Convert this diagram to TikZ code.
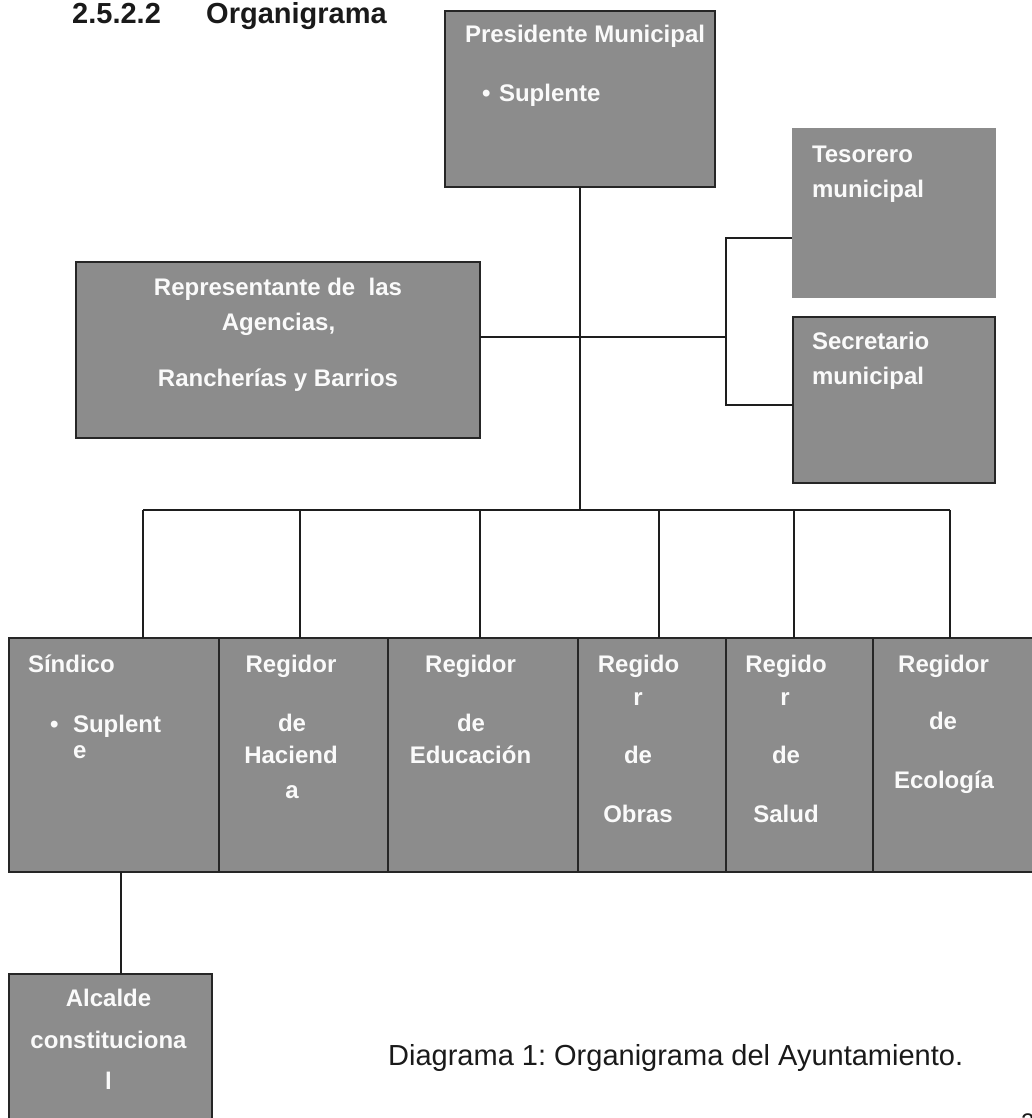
\documentclass[tikz,border=0pt]{standalone}
\usepackage{fontspec}
\setmainfont{Liberation Sans}
\frenchspacing
\definecolor{boxgray}{RGB}{140,140,140}
\definecolor{boxline}{RGB}{38,38,38}
\definecolor{linec}{RGB}{30,30,30}
\definecolor{lbltext}{RGB}{250,250,250}
\definecolor{titletext}{RGB}{26,26,26}
\newcommand\boxfont{\fontsize{24}{28}\selectfont\bfseries}
\begin{document}
\begin{tikzpicture}[x=1pt,y=-1pt,
  box/.style={draw=boxline, line width=2.7pt, fill=boxgray, inner sep=0pt, outer sep=0pt, anchor=north west},
  plainbox/.style={fill=boxgray, inner sep=0pt, outer sep=0pt, anchor=north west},
  conn/.style={draw=linec, line width=2pt},
  lbl/.style={text=lbltext, font=\boxfont, inner sep=0pt, outer sep=0pt},
  lbll/.style={lbl, anchor=base west},
  lblc/.style={lbl, anchor=base},
]
\useasboundingbox (0,0) rectangle (1032,1118);
\clip (0,0) rectangle (1032,1118);
\fill[white] (0,0) rectangle (1032,1118);

% title
\node[anchor=base west, inner sep=0pt, text=titletext, font=\fontsize{29}{34}\selectfont\bfseries] (title) at (72,24) {2.5.2.2};
\node[anchor=base west, inner sep=0pt, text=titletext, font=\fontsize{29}{34}\selectfont\bfseries] (title2) at (206,24) {Organigrama};

% boxes
\node[box, minimum width=270pt, minimum height=176pt] (pres) at (445,11) {};
\node[plainbox, minimum width=204pt, minimum height=170pt] (tes) at (792,128) {};
\node[box, minimum width=202pt, minimum height=166pt] (sec) at (793,317) {};
\node[box, minimum width=404pt, minimum height=176pt] (rep) at (76,262) {};
\node[box, minimum width=210pt, minimum height=234pt] (s1) at (9,638) {};
\node[box, minimum width=169pt, minimum height=234pt] (s2) at (219,638) {};
\node[box, minimum width=190pt, minimum height=234pt] (s3) at (388,638) {};
\node[box, minimum width=148pt, minimum height=234pt] (s4) at (578,638) {};
\node[box, minimum width=147pt, minimum height=234pt] (s5) at (726,638) {};
\node[box, minimum width=170pt, minimum height=234pt] (s6) at (873,638) {};
\node[box, minimum width=203pt, minimum height=170pt] (alc) at (9,974) {};

% connectors
\coordinate (j1) at (580,337);
\coordinate (jr) at (726,337);
\coordinate (jt) at (726,238);
\coordinate (js) at (726,405);
\coordinate (bus) at (580,510);
\draw[conn] (pres.south) -- (bus);
\draw[conn] (rep.east |- j1) -- (j1) -- (jr);
\draw[conn] (tes.west |- jt) -- (jt) -- (js) -- (sec.west |- js);
\coordinate (d1) at (143,510);
\coordinate (d2) at (300,510);
\coordinate (d3) at (479.5,510);
\coordinate (d4) at (658.5,510);
\coordinate (d5) at (793.5,510);
\coordinate (d6) at (950,510);
\draw[conn] (d1) -- (d6);
\foreach \i in {1,...,6} { \draw[conn] (d\i) -- (d\i |- s\i.north); }
\coordinate (ka) at (120.5,872);
\draw[conn] (ka |- s1.south) -- (ka |- alc.north);

% texts top
\node[lbll] (presA) at (465,43) {Presidente Municipal};
\node[lbll] (presB) at (482,102) {•};
\node[lbll] (presC) at (499,102) {Suplente};
\node[lbll] (tesA) at (812,163) {Tesorero};
\node[lbll] (tesB) at (812,197) {municipal};
\node[lbll] (secA) at (812,349) {Secretario};
\node[lbll] (secB) at (812,384) {municipal};
\node[lblc] (repA) at (278,295) {Representante de\ \ las};
\node[lblc] (repB) at (278.5,330) {Agencias,};
\node[lblc] (repC) at (278,386) {Rancherías y Barrios};

% texts bottom row
\node[lbll] (s1A) at (28,672) {Síndico};
\node[lbll] (s1B) at (50,732) {•};
\node[lbll] (s1C) at (73,732) {Suplent};
\node[lbll] (s1D) at (73,758) {e};

\node[lblc] (s2A) at (291,672) {Regidor};
\node[lblc] (s2B) at (292,731) {de};
\node[lblc] (s2C) at (291,763) {Haciend};
\node[lblc] (s2D) at (292,798) {a};

\node[lblc] (s3A) at (470.5,672) {Regidor};
\node[lblc] (s3B) at (471,731) {de};
\node[lblc] (s3C) at (470.5,763) {Educación};

\node[lblc] (s4A) at (638.5,672) {Regido};
\node[lblc] (s4B) at (638,705) {r};
\node[lblc] (s4C) at (638,763) {de};
\node[lblc] (s4D) at (638,822) {Obras};

\node[lblc] (s5A) at (786,672) {Regido};
\node[lblc] (s5B) at (785,705) {r};
\node[lblc] (s5C) at (786,763) {de};
\node[lblc] (s5D) at (786,822) {Salud};

\node[lblc] (s6A) at (943.5,672) {Regidor};
\node[lblc] (s6B) at (943,729) {de};
\node[lblc] (s6C) at (944,788) {Ecología};

\node[lblc] (alcA) at (108.5,1006) {Alcalde};
\node[lblc] (alcB) at (108.5,1048) {constituciona};
\node[lblc] (alcC) at (108.5,1089) {l};

% caption
\node[anchor=base west, inner sep=0pt, text=titletext, font=\fontsize{29}{34}\selectfont] (cap) at (388,1065) {Diagrama 1: Organigrama del Ayuntamiento.};
\node[anchor=base west, inner sep=0pt, text=titletext, font=\fontsize{24}{28}\selectfont] (pg) at (1021,1130) {2};
\end{tikzpicture}
\end{document}
